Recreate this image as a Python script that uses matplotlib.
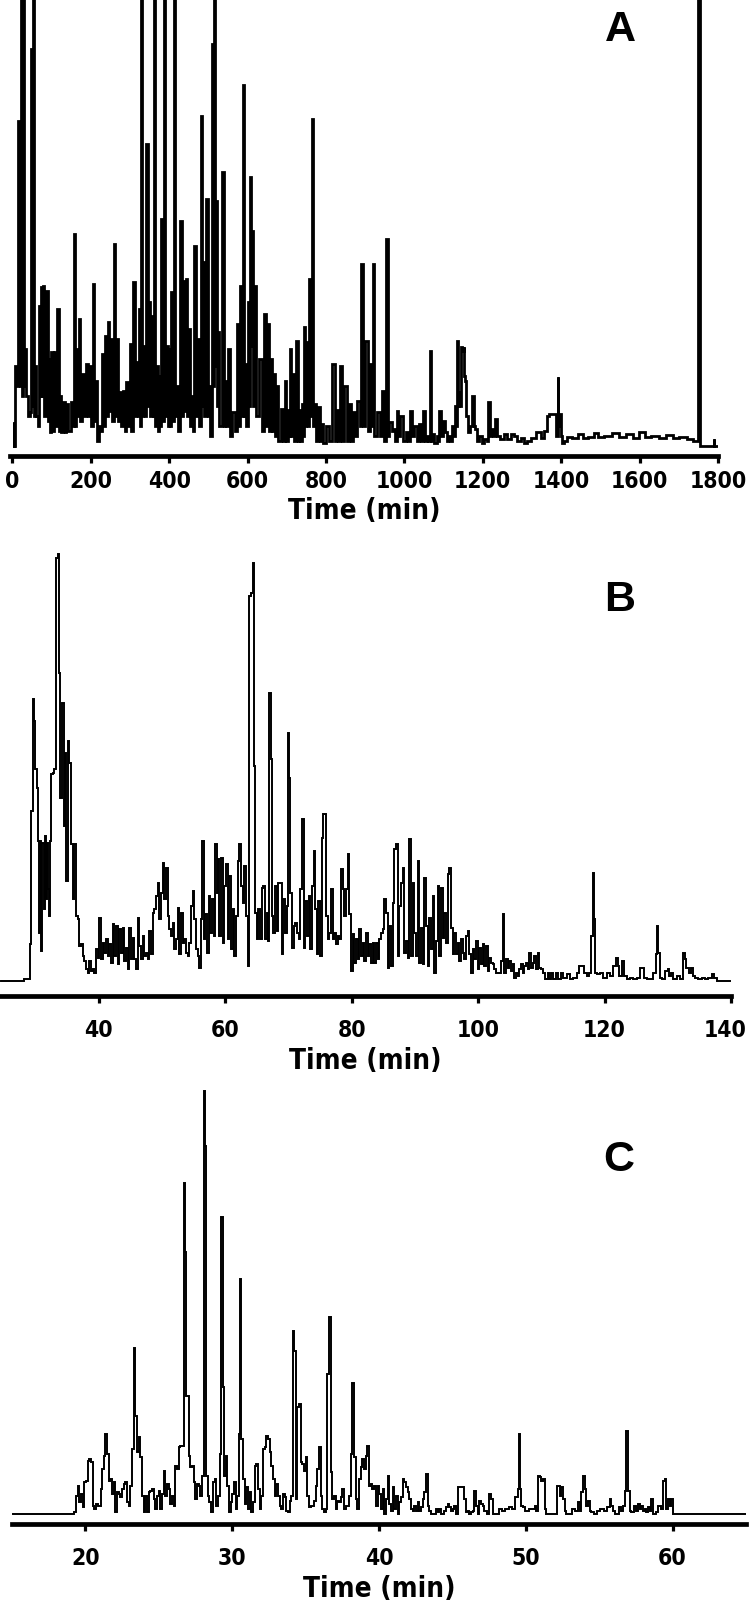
import matplotlib.pyplot as plt
from matplotlib import font_manager
from matplotlib.ticker import FixedLocator
from matplotlib.transforms import ScaledTranslation

# Panel A: long gradient run (0-1800 min)
a_time = [3, 3.4, 5.5, 7.7, 10, 17.9, 20, 23, 25, 27.3, 30, 33.2, 37.5, 42, 46, 50.2, 52, 54.5, 57, 60.5,
          62.5, 64.7, 67, 69.8, 72, 74.1, 77, 80, 84, 88.5, 91, 94.5, 98, 101.3, 105, 109.8, 113, 116.6,
          120, 122.6, 126, 131.1, 135, 139.6, 146, 152.4, 155, 158.3, 161, 165.1, 168, 171.9, 175,
          180.4, 185, 190.7, 195, 199.2, 203, 207.7, 211, 214.5, 219, 224.7, 228, 230.7, 234, 237.5,
          241, 246, 249, 252.8, 256, 260.4, 263, 267.2, 271, 275.8, 280, 286, 289, 292.8, 297, 301.3,
          305, 311.5, 315, 318.3, 321, 324.3, 327, 329.4, 332, 335.3, 339, 343.8, 347, 350.6, 354,
          358.3, 360.5, 362.6, 366, 369.4, 372, 375.3, 378, 382.1, 385, 389, 392, 394.9, 398, 400.9,
          404, 407.7, 410.5, 413.6, 417, 420.4, 424, 431.5, 434, 437.4, 440, 443.4, 447, 451.1, 455,
          458.7, 462, 467.2, 470, 474, 478, 482.6, 484.5, 486.8, 490, 497, 500, 503.8, 507, 511.5,
          513.5, 515.7, 518, 520.8, 523.5, 526.8, 530, 537.9, 541, 543.8, 547, 552.3, 557, 565.1, 570,
          576.2, 580, 583.8, 586, 588.9, 591, 594.9, 598, 603.4, 605.5, 607.7, 610, 613.6, 616, 620.4,
          624, 633.2, 640, 646, 650, 654.5, 657, 660.4, 664, 668.9, 672, 675.7, 680, 688.5, 692, 697,
          700, 703.8, 706, 709.8, 713, 716.6, 720, 726.8, 730, 732.8, 736, 739.6, 742, 745.5, 748,
          752.3, 755, 759.1, 762, 765.9, 768, 773.6, 778, 782.1, 786, 790.6, 795, 803.4, 810, 820.4,
          824, 828.9, 833, 839.1, 843, 850.2, 855, 863, 867, 871.5, 876, 884.2, 888, 892.7, 896, 905.5,
          909, 914, 917, 922.5, 925, 935, 940, 945, 949, 956.5, 959, 965, 970, 973.5, 978, 982, 987,
          993, 999, 1007.5, 1012, 1016, 1022, 1029, 1035, 1039, 1044, 1050, 1055, 1058.6, 1063, 1067,
          1070, 1073, 1080, 1084, 1088, 1091, 1095, 1100, 1105, 1110, 1114, 1119, 1124, 1128, 1131,
          1134, 1137, 1139, 1141, 1143, 1146, 1150, 1152, 1154, 1156.5, 1160, 1165, 1170, 1175, 1178,
          1182, 1188, 1195, 1200, 1207.5, 1212, 1216, 1219, 1223, 1228, 1235, 1240, 1250, 1258, 1267,
          1275, 1284, 1292, 1301, 1310, 1318, 1330, 1344, 1352, 1361, 1366, 1373.5, 1380, 1386, 1390,
          1392, 1394, 1396.5, 1400, 1403, 1410, 1420, 1437, 1450, 1460, 1475, 1490, 1500, 1520, 1540,
          1555, 1575, 1590, 1607, 1620, 1640, 1660, 1675, 1693, 1710, 1730, 1745, 1749, 1751, 1753,
          1755, 1780, 1788, 1790, 1792, 1799]
a_signal = [0, 24, 0, 80, 60, 325, 60, 520, 50, 520, 60, 97, 50, 30, 34, 397, 40, 520, 30, 80,
            30, 30, 20, 140, 50, 159, 50, 160, 30, 155, 25, 87, 14, 94, 15, 94, 20, 137,
            15, 50, 14, 44, 14, 42, 15, 44, 20, 212, 20, 97, 30, 127, 25,
            72, 30, 82, 30, 80, 20, 162, 25, 65, 5, 20, 15, 92, 20, 110,
            30, 124, 35, 107, 25, 202, 30, 107, 25, 54, 20, 55, 15, 64, 20, 102,
            15, 164, 30, 84, 30, 137, 20, 520, 30, 100, 30, 302, 40, 144, 30,
            130, 30, 520, 20, 80, 15, 70, 20, 227, 25, 520, 30, 100, 20, 97,
            20, 154, 25, 520, 30, 60, 15, 225, 30, 165, 35, 167, 30, 117, 20,
            50, 15, 200, 30, 107, 20, 330, 40, 184, 30, 247, 30, 60, 10, 402,
            60, 520, 80, 245, 40, 114, 20, 274, 20, 65, 20, 97, 10, 34, 15,
            122, 20, 160, 30, 361, 30, 82, 20, 144, 40, 269, 100, 215, 40, 160,
            30, 87, 15, 132, 20, 122, 15, 87, 15, 72, 10, 60, 5, 37, 5, 65,
            5, 36, 10, 97, 10, 72, 5, 105, 5, 36, 5, 42, 10, 119, 20,
            104, 20, 167, 30, 327, 20, 42, 5, 39, 5, 22, 3, 20, 5, 82,
            5, 36, 5, 80, 5, 60, 5, 42, 5, 34, 10, 45, 20, 182, 20, 105,
            15, 82, 20, 182, 10, 34, 10, 55, 5, 207, 10, 24, 15, 17, 5, 35, 10,
            30, 5, 14, 5, 35, 10, 20, 5, 22, 5, 35, 5, 10, 5, 95,
            5, 12, 3, 10, 5, 35, 10, 25, 14, 5, 10, 5, 20, 10, 40,
            20, 105, 40, 54, 40, 99, 95, 99, 70, 65, 30, 14, 20, 50, 20,
            17, 5, 10, 3, 7, 5, 44, 10, 17, 10, 27, 10, 7, 12, 7,
            12, 10, 5, 8, 3, 5, 8, 14, 8, 15, 30, 32, 32, 32, 10,
            69, 20, 32, 10, 3, 5, 9, 8, 12, 8, 9, 13, 9, 10, 13,
            9, 12, 8, 14, 9, 10, 8, 11, 8, 9, 7, 5, 5, 700, 700,
            0, 0, 0, 7, 0, 0]

# Panel B: 25-140 min run
b_time = [24.5, 27.86, 28.38, 29.07, 29.28, 29.44, 29.70, 29.86, 30.07, 30.33, 30.49, 30.65, 30.86,
          31.02, 31.18, 31.39, 31.54, 31.70, 31.91, 32.07, 32.23, 32.44, 32.60, 32.86, 33.13, 33.39,
          33.65, 33.81, 34.07, 34.34, 34.55, 34.76, 34.97, 35.23, 35.50, 35.76, 36.02, 36.29, 36.55,
          36.81, 37.08, 37.34, 37.60, 37.87, 38.13, 38.40, 38.66, 38.92, 39.19, 39.45, 39.71, 39.98,
          40.24, 40.50, 40.77, 41.03, 41.29, 41.56, 41.82, 42.08, 42.35, 42.61, 42.88, 43.14, 43.40,
          43.67, 43.93, 44.19, 44.46, 44.72, 44.98, 45.25, 45.51, 45.77, 46.04, 46.30, 46.56, 46.83,
          47.09, 47.35, 47.62, 47.88, 48.15, 48.41, 48.67, 48.94, 49.20, 49.46, 49.73, 49.99, 50.25,
          50.52, 50.78, 51.04, 51.31, 51.57, 51.83, 52.10, 52.36, 52.62, 52.89, 53.15, 53.42, 53.68,
          53.94, 54.21, 54.47, 54.73, 55.00, 55.26, 55.52, 55.79, 56.05, 56.31, 56.47, 56.74, 57.00,
          57.26, 57.53, 57.79, 58.05, 58.32, 58.58, 58.79, 59.00, 59.21, 59.48, 59.74, 60.00, 60.27,
          60.53, 60.79, 61.06, 61.32, 61.58, 61.85, 62.11, 62.37, 62.64, 62.90, 63.16, 63.43, 63.69,
          63.96, 64.22, 64.48, 64.64, 64.85, 65.11, 65.38, 65.64, 65.91, 66.17, 66.43, 66.70, 66.91,
          67.12, 67.28, 67.49, 67.75, 68.01, 68.28, 68.54, 68.80, 69.07, 69.33, 69.59, 69.86, 70.02,
          70.17, 70.44, 70.70, 70.96, 71.23, 71.49, 71.75, 72.02, 72.28, 72.54, 72.81, 73.07, 73.33,
          73.60, 73.86, 74.13, 74.34, 74.60, 74.86, 75.13, 75.39, 75.55, 75.81, 76.07, 76.34, 76.60,
          76.87, 77.13, 77.39, 77.66, 77.92, 78.18, 78.45, 78.71, 78.97, 79.24, 79.50, 79.77, 80.03,
          80.29, 80.56, 80.82, 81.08, 81.35, 81.61, 81.87, 82.14, 82.40, 82.66, 82.93, 83.19, 83.45,
          83.72, 83.98, 84.25, 84.51, 84.77, 85.04, 85.30, 85.56, 85.83, 86.09, 86.36, 86.62, 86.88,
          87.15, 87.41, 87.67, 87.94, 88.20, 88.46, 88.73, 88.99, 89.25, 89.52, 89.78, 90.04, 90.31,
          90.57, 90.83, 91.10, 91.36, 91.63, 91.89, 92.15, 92.42, 92.68, 92.94, 93.21, 93.47, 93.73,
          94.00, 94.26, 94.52, 94.79, 95.05, 95.31, 95.58, 95.84, 96.10, 96.37, 96.63, 96.90, 97.16,
          97.42, 97.69, 97.95, 98.21, 98.48, 98.74, 99.00, 99.27, 99.53, 99.79, 100.06, 100.32,
          100.58, 100.85, 101.11, 101.37, 101.64, 101.90, 102.17, 102.43, 102.69, 102.96, 103.48,
          103.75, 104.01, 104.27, 104.54, 104.80, 105.06, 105.33, 105.59, 105.85, 106.12, 106.38,
          106.64, 106.91, 107.17, 107.44, 107.70, 107.96, 108.23, 108.49, 108.75, 109.02, 109.28,
          109.54, 109.81, 110.07, 110.33, 110.86, 111.12, 111.39, 111.65, 112.18, 112.44, 112.97,
          113.23, 113.76, 114.29, 114.81, 115.34, 115.87, 116.13, 116.66, 116.92, 117.45, 117.71,
          117.97, 118.24, 118.40, 118.61, 119.03, 119.56, 120.08, 120.61, 121.14, 121.66, 121.93,
          122.19, 122.45, 122.98, 123.24, 123.77, 124.30, 124.83, 125.35, 125.88, 126.14, 126.41,
          126.93, 127.46, 127.99, 128.25, 128.41, 128.62, 128.83, 129.31, 129.83, 130.10, 130.36,
          130.62, 131.15, 131.68, 132.20, 132.63, 132.84, 133.05, 133.26, 133.52, 133.79, 134.05,
          134.58, 135.10, 135.63, 136.16, 136.68, 137.21, 137.48, 138.00, 139.85]
b_signal = [0, 0, 2, 2, 37, 170, 282, 260, 212, 193, 140, 48, 140,
            30, 138, 72, 145, 82, 138, 92, 65, 140, 207, 208, 212, 423,
            427, 308, 183, 278, 155, 228, 100, 240, 218, 137, 82, 137, 65,
            62, 35, 37, 25, 20, 12, 8, 20, 10, 12, 8, 32, 23,
            63, 22, 38, 28, 42, 25, 37, 18, 57, 25, 55, 17, 52,
            28, 53, 20, 33, 12, 53, 22, 43, 22, 12, 63, 35, 22,
            45, 25, 28, 22, 50, 27, 68, 72, 85, 98, 62, 88, 118,
            82, 113, 65, 52, 45, 58, 32, 42, 73, 27, 68, 38, 42,
            28, 25, 38, 75, 90, 62, 32, 25, 13, 62, 140, 42, 67,
            28, 85, 48, 82, 45, 137, 88, 122, 45, 123, 38, 95, 117,
            42, 105, 32, 72, 25, 65, 120, 137, 95, 78, 115, 65, 15,
            385, 388, 418, 215, 68, 42, 72, 42, 93, 95, 42, 68, 40,
            288, 222, 65, 48, 95, 50, 98, 98, 27, 82, 48, 75, 248,
            203, 88, 33, 55, 58, 48, 42, 92, 162, 33, 80, 45, 85,
            32, 95, 130, 72, 27, 80, 25, 143, 167, 167, 65, 42, 48,
            92, 42, 48, 37, 45, 42, 112, 92, 65, 92, 127, 67, 10,
            47, 18, 42, 22, 52, 25, 38, 20, 48, 25, 37, 18, 38,
            18, 38, 22, 42, 48, 52, 82, 68, 13, 55, 15, 78, 132,
            137, 25, 75, 98, 113, 28, 40, 23, 142, 25, 98, 48, 25,
            120, 18, 53, 17, 103, 55, 15, 63, 32, 85, 8, 40, 95,
            25, 93, 43, 68, 38, 107, 113, 53, 27, 48, 27, 38, 20,
            42, 28, 22, 45, 50, 27, 8, 32, 22, 40, 12, 33,
            17, 37, 15, 35, 10, 23, 18, 17, 12, 8, 8,
            20, 67, 8, 22, 13, 20, 10, 17, 3, 8, 5,
            12, 17, 8, 15, 18, 12, 28, 13, 18, 25, 12,
            28, 13, 12, 8, 2, 8, 2, 8, 2, 8, 2,
            8, 3, 7, 2, 3, 8, 15, 15, 8, 5, 8,
            45, 108, 62, 8, 7, 8, 3, 8, 5, 15, 23,
            15, 5, 20, 5, 2, 3, 2, 3, 13, 13, 3,
            2, 2, 8, 27, 55, 28, 3, 2, 10, 12, 5,
            8, 2, 5, 2, 28, 22, 13, 13, 8, 13, 5,
            3, 2, 3, 2, 3, 7, 3, 0, 0]

# Panel C: 15-65 min run
c_time = [15.04, 19.18, 19.25, 19.41, 19.52, 19.64, 19.77, 19.86, 20.00, 20.11, 20.23, 20.32, 20.45,
          20.55, 20.66, 20.77, 20.89, 21.00, 21.09, 21.23, 21.32, 21.41, 21.52, 21.64, 21.75, 21.87,
          21.98, 22.09, 22.21, 22.32, 22.43, 22.55, 22.66, 22.78, 22.89, 23.00, 23.12, 23.23, 23.34,
          23.46, 23.57, 23.69, 23.80, 23.91, 24.03, 24.14, 24.25, 24.37, 24.48, 24.60, 24.71, 24.82,
          24.94, 25.05, 25.16, 25.28, 25.37, 25.51, 25.62, 25.73, 25.85, 25.96, 26.07, 26.19, 26.30,
          26.42, 26.53, 26.64, 26.73, 26.82, 26.92, 27.03, 27.10, 27.21, 27.33, 27.44, 27.55, 27.67,
          27.78, 27.89, 28.01, 28.10, 28.19, 28.28, 28.39, 28.51, 28.62, 28.74, 28.85, 28.96, 29.08,
          29.19, 29.30, 29.42, 29.53, 29.60, 29.71, 29.83, 29.94, 30.06, 30.17, 30.28, 30.40, 30.51,
          30.58, 30.67, 30.78, 30.90, 31.01, 31.12, 31.24, 31.35, 31.47, 31.58, 31.69, 31.81, 31.92,
          32.03, 32.15, 32.26, 32.38, 32.49, 32.60, 32.72, 32.83, 32.94, 33.06, 33.17, 33.29, 33.40,
          33.51, 33.63, 33.74, 33.85, 33.97, 34.08, 34.17, 34.29, 34.38, 34.49, 34.61, 34.72, 34.83,
          34.95, 35.06, 35.17, 35.29, 35.40, 35.52, 35.63, 35.74, 35.86, 35.97, 36.08, 36.20, 36.31,
          36.43, 36.54, 36.65, 36.77, 36.88, 36.99, 37.11, 37.22, 37.34, 37.45, 37.56, 37.68, 37.79,
          37.90, 38.02, 38.13, 38.25, 38.36, 38.48, 38.59, 38.70, 38.81, 38.93, 39.04, 39.16, 39.27,
          39.38, 39.50, 39.61, 39.72, 39.84, 39.96, 40.07, 40.19, 40.30, 40.41, 40.53, 40.64, 40.75,
          40.87, 40.98, 41.10, 41.21, 41.32, 41.44, 41.55, 41.66, 41.78, 41.89, 42.01, 42.12, 42.23,
          42.35, 42.46, 42.57, 42.69, 42.80, 42.92, 43.03, 43.14, 43.26, 43.37, 43.48, 43.60, 43.83,
          43.94, 44.05, 44.17, 44.28, 44.51, 44.62, 44.74, 44.85, 44.96, 45.08, 45.19, 45.30, 45.53,
          45.76, 45.87, 45.99, 46.10, 46.21, 46.33, 46.44, 46.56, 46.67, 46.78, 46.90, 47.01, 47.12,
          47.24, 47.47, 47.58, 47.69, 47.81, 48.03, 48.26, 48.49, 48.72, 48.94, 49.17, 49.40, 49.51,
          49.58, 49.67, 49.74, 49.85, 50.08, 50.31, 50.54, 50.65, 50.76, 50.88, 50.99, 51.11, 51.22,
          51.33, 51.45, 52.02, 52.24, 52.36, 52.47, 52.58, 52.70, 52.81, 53.04, 53.27, 53.49, 53.61,
          53.72, 53.83, 53.95, 54.06, 54.18, 54.29, 54.40, 54.52, 54.75, 54.97, 55.20, 55.43, 55.66,
          55.77, 55.88, 56.00, 56.22, 56.45, 56.57, 56.68, 56.79, 56.91, 57.02, 57.13, 57.25, 57.48,
          57.59, 57.70, 57.82, 57.93, 58.04, 58.16, 58.27, 58.39, 58.50, 58.61, 58.73, 58.95, 59.07,
          59.30, 59.41, 59.52, 59.64, 59.75, 59.86, 59.98, 60.09, 65.0]
c_signal = [0, 0, 2, 18, 28, 12, 20, 7, 32, 33, 53, 55, 52,
            8, 5, 10, 8, 8, 25, 45, 58, 80, 60, 33, 35, 20,
            32, 2, 22, 20, 17, 25, 30, 32, 12, 8, 28, 65, 166,
            98, 62, 77, 57, 18, 2, 18, 2, 22, 23, 25, 15, 5,
            18, 23, 5, 20, 43, 18, 30, 25, 10, 18, 8, 48, 45,
            67, 68, 68, 331, 262, 118, 118, 58, 47, 48, 32, 15, 30,
            28, 18, 38, 423, 368, 38, 18, 12, 2, 32, 35, 8, 18,
            60, 297, 127, 38, 58, 28, 2, 12, 20, 32, 5, 18, 80,
            235, 75, 35, 10, 27, 5, 22, 2, 12, 48, 50, 25, 5,
            18, 65, 67, 78, 75, 62, 48, 35, 18, 30, 18, 8, 5,
            20, 17, 3, 2, 13, 18, 183, 163, 15, 107, 110, 52, 50,
            43, 57, 18, 7, 8, 8, 13, 28, 45, 67, 18, 5, 2,
            5, 140, 197, 42, 15, 18, 5, 13, 12, 17, 25, 5, 8,
            8, 18, 60, 131, 57, 15, 5, 35, 47, 55, 45, 58, 68,
            28, 30, 25, 28, 8, 28, 20, 5, 25, 0, 15, 38, 10,
            3, 27, 5, 18, 0, 12, 17, 35, 32, 27, 22, 15, 5,
            3, 8, 3, 12, 3, 7, 15, 22, 40, 8, 3, 0, 0,
            5, 2, 5, 0, 3, 7, 10, 7, 3, 5, 8, 0, 27,
            27, 15, 2, 3, 0, 2, 3, 23, 8, 0, 13, 10, 8,
            3, 0, 20, 15, 0, 0, 5, 3, 5, 7, 5, 17, 25,
            80, 25, 8, 7, 3, 5, 5, 8, 3, 38, 37, 33, 35,
            5, 0, 0, 28, 18, 27, 15, 3, 0, 0, 5, 3, 12,
            3, 22, 38, 25, 8, 13, 3, 2, 0, 3, 5, 3, 7,
            15, 8, 3, 0, 7, 3, 8, 23, 83, 23, 3, 2, 8,
            3, 10, 5, 8, 3, 5, 2, 7, 3, 15, 0, 2, 8,
            5, 33, 35, 5, 15, 8, 15, 0, 0]

a_ticks = [0, 200, 400, 600, 800, 1000, 1200, 1400, 1600, 1800]
b_ticks = [40, 60, 80, 100, 120, 140]
c_ticks = [20, 30, 40, 50, 60]

# look for a narrow / condensed sans, otherwise plain Liberation Sans
narrow_fam = None
narrow_stretch = 'normal'
for f in font_manager.fontManager.ttflist:
    if f.name == 'Liberation Sans Narrow':
        narrow_fam = 'Liberation Sans Narrow'
        break
if narrow_fam is None:
    for f in font_manager.fontManager.ttflist:
        if f.name == 'DejaVu Sans' and f.stretch in ('condensed', 'semi-condensed', 600):
            narrow_fam = 'DejaVu Sans'
            narrow_stretch = 'condensed'
            break
if narrow_fam is None:
    narrow_fam = 'Liberation Sans'
    tick_size, xlab_size = 16, 20
else:
    tick_size, xlab_size = 16.5, 20

W, H = 750, 1624
fig = plt.figure(figsize=(W / 100, H / 100), dpi=100)

panels = [
    # left, right, top, bottom (px), xlim, ylim, data, ticks, letter, letter xy, lw, tick pad, label y
    (10, 718, 0, 457, (-6, 1800), (-10, 447), a_time, a_signal, a_ticks, 'A', (620, 30), 2.0, 4.0, -0.118),
    (0, 731, 540, 997, (24.4, 140), (-15, 442), b_time, b_signal, b_ticks, 'B', (620, 600), 1.4, 11.0, -0.140),
    (12, 746, 1080, 1525, (15, 65), (-10, 435), c_time, c_signal, c_ticks, 'C', (619, 1160), 1.4, 11.0, -0.144),
]

for (l, r, t, b, xlim, ylim, xs, ys, ticks, letter, lxy, lw, pad, laby) in panels:
    ax = fig.add_axes([l / W, (H - b) / H, (r - l) / W, (b - t) / H])
    ax.plot(xs, ys, color='black', lw=lw, drawstyle='steps-mid', solid_joinstyle='miter')
    ax.set_xlim(*xlim)
    ax.set_ylim(*ylim)
    for side in ['top', 'left', 'right']:
        ax.spines[side].set_visible(False)
    ax.spines['bottom'].set_linewidth(3.4)
    ax.set_yticks([])
    ax.xaxis.set_major_locator(FixedLocator(ticks))
    ax.tick_params(axis='x', direction='out', length=5, width=2.3, pad=pad)
    for lab in ax.get_xticklabels():
        lab.set_fontfamily([narrow_fam, 'DejaVu Sans'])
        lab.set_fontstretch(narrow_stretch)
        lab.set_fontweight('bold')
        lab.set_fontsize(tick_size)
    # the last label in B sits on the figure edge, nudge it in a little
    if letter == 'B':
        last = ax.xaxis.get_major_ticks()[-1].label1
        last.set_transform(last.get_transform() + ScaledTranslation(-6 / 100, 0, fig.dpi_scale_trans))
    ax.set_xlabel('Time (min)', fontsize=xlab_size, fontweight='bold',
                  family=[narrow_fam, 'DejaVu Sans'], fontstretch=narrow_stretch)
    ax.xaxis.set_label_coords(0.5, laby)
    ax.xaxis.label.set_va('center')
    fig.text(lxy[0] / W, 1 - lxy[1] / H, letter, fontsize=31, fontweight='bold',
             family=['Liberation Sans', 'DejaVu Sans'], ha='center', va='center')

fig.savefig('out.png', dpi=100)
plt.close(fig)
